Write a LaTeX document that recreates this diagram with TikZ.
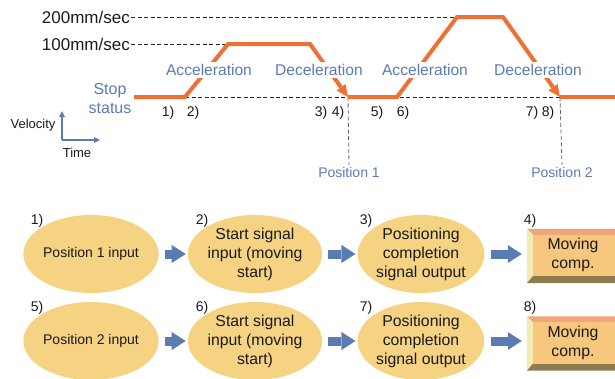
\documentclass[tikz,border=0pt]{standalone}
\usepackage{fontspec}
\setmainfont{Liberation Sans}
\usetikzlibrary{arrows.meta,shapes.geometric,calc}
\definecolor{myorange}{HTML}{EE7035}
\definecolor{myblue}{HTML}{5B7BB4}
\definecolor{arrowblue}{HTML}{5A7CB3}
\definecolor{ellfill}{HTML}{F6D283}
\definecolor{txtdark}{HTML}{1A1A1A}
\definecolor{bevtop}{HTML}{F2A57A}
\definecolor{bevleft}{HTML}{F3EDB4}
\definecolor{bevbottom}{HTML}{8E7D50}
\definecolor{bevright}{HTML}{B89A5C}
\definecolor{bevface}{HTML}{F7C77D}
\begin{document}
\begin{tikzpicture}[x=1pt,y=-1pt,
  orangeline/.style={draw=myorange,line width=4pt,line join=miter},
  otip/.style={-{Triangle[length=12pt,width=11pt,line width=0pt]}},
  guide/.style={draw=black!85,line width=0.8pt,dash pattern=on 4pt off 2.5pt},
  vguide/.style={draw=black!60,line width=0.8pt,dash pattern=on 4pt off 2.5pt},
  phase/.style={text=myblue,fill=white,inner sep=2.5pt,font=\fontsize{15.6}{19}\selectfont},
  speed/.style={text=txtdark,inner sep=1pt,font=\fontsize{17}{20}\selectfont},
  numlbl/.style={text=txtdark,inner sep=0pt,font=\fontsize{14}{16}\selectfont},
  poslbl/.style={text=myblue,inner sep=1.5pt,font=\fontsize{14}{16}\selectfont},
  axislbl/.style={text=txtdark,inner sep=0pt,font=\fontsize{13}{15}\selectfont},
  axisline/.style={draw=myblue,line width=1.5pt,-{Triangle[length=6pt,width=6pt,line width=0pt]}},
  ell/.style={ellipse,fill=ellfill,minimum width=121pt,minimum height=78pt,inner sep=0pt,align=center,text=txtdark,font=\fontsize{15.8}{19}\selectfont},
  blockarrow/.style={draw=arrowblue,line width=9pt,shorten <=6pt,shorten >=2pt,-{Triangle[length=14pt,width=18pt,line width=0pt]}},
  boxframe/.style={rectangle,minimum width=94pt,minimum height=54pt,inner sep=0pt},
  boxtxt/.style={align=center,text=txtdark,inner sep=0pt,font=\fontsize{15.8}{19}\selectfont}
]
\useasboundingbox (0,0) rectangle (615,378);

% ---------- velocity diagram ----------
\coordinate (s0) at (134,97);
\coordinate (a1) at (185,97);
\coordinate (t1) at (228,44);
\coordinate (t2) at (310,44);
\coordinate (p1) at (348,97);
\coordinate (a2) at (397,97);
\coordinate (u1) at (457,17);
\coordinate (u2) at (503,17);
\coordinate (p2) at (560,97);
\coordinate (e0) at (620,97);

\node[speed,anchor=east] (l200) at (131,17) {200mm/sec};
\node[speed,anchor=east] (l100) at (131,44) {100mm/sec};

\draw[guide] (l200.east) -- (u1);
\draw[guide] (l100.east) -- (t1);
\draw[guide] (a1) -- (p2);

\node[poslbl] (pos1) at (349,172) {Position 1};
\node[poslbl] (pos2) at (562,172) {Position 2};
\draw[vguide] (p1) -- (pos1.north);
\draw[vguide] (p2) -- (pos2.north);

\draw[orangeline,otip] (s0) -- (a1) -- (t1) -- (t2) -- (p1);
\draw[orangeline,otip] (p1) -- (a2) -- (u1) -- (u2) -- (p2);
\draw[orangeline] (p2) -- (e0);

\node[phase] (acc1) at (209,70) {Acceleration};
\node[phase] (dec1) at (319,70) {Deceleration};
\node[phase] (acc2) at (425,70) {Acceleration};
\node[phase] (dec2) at (538,70) {Deceleration};

\node[text=myblue,align=center,inner sep=0pt,font=\fontsize{16}{19}\selectfont] (stop) at (110,98) {Stop\\status};

\node[numlbl] (n1) at (168,113) {1)};
\node[numlbl] (n2) at (193,113) {2)};
\node[numlbl] (n3) at (321,113) {3)};
\node[numlbl] (n4) at (338,113) {4)};
\node[numlbl] (n5) at (377,113) {5)};
\node[numlbl] (n6) at (403,113) {6)};
\node[numlbl] (n7) at (532,113) {7)};
\node[numlbl] (n8) at (548,113) {8)};

% axis symbol
\coordinate (ax0) at (62,140);
\coordinate (axv) at (62,111);
\coordinate (axh) at (100,140);
\draw[axisline] (ax0) -- (axv);
\draw[axisline] (ax0) -- (axh);
\node[axislbl] (vel) at (33,125) {Velocity};
\node[axislbl] (tim) at (77,153) {Time};

% ---------- flow rows ----------
\foreach \r/\yy/\ya/\yb in {1/254/222/256,2/341/308/343.5}{
  \node[boxframe] (m\r) at (574,\yb) {};
  \fill[bevtop] (m\r.north west) -- (m\r.north east) -- ($(m\r.north east)+(-6,6)$) -- ($(m\r.north west)+(6,6)$) -- cycle;
  \fill[bevleft] (m\r.north west) -- ($(m\r.north west)+(6,6)$) -- ($(m\r.south west)+(6,-7)$) -- (m\r.south west) -- cycle;
  \fill[bevbottom] (m\r.south west) -- ($(m\r.south west)+(6,-7)$) -- ($(m\r.south east)+(-6,-7)$) -- (m\r.south east) -- cycle;
  \fill[bevright] (m\r.north east) -- ($(m\r.north east)+(-6,6)$) -- ($(m\r.south east)+(-6,-7)$) -- (m\r.south east) -- cycle;
  \fill[bevface] ($(m\r.north west)+(6,6)$) rectangle ($(m\r.south east)+(-6,-7)$);
  \node[boxtxt] (mt\r) at ($(m\r.center)+(-1,-1)$) {Moving\\comp.};
}

\node[ell,font=\fontsize{14}{17}\selectfont] (e1) at (91,254) {Position 1 input};
\node[ell] (e2) at (255,254) {Start signal\\input (moving\\start)};
\node[ell] (e3) at (421,254) {Positioning\\completion\\signal output};

\node[ell,font=\fontsize{14}{17}\selectfont] (f1) at (91,341) {Position 2 input};
\node[ell] (f2) at (255,341) {Start signal\\input (moving\\start)};
\node[ell] (f3) at (421,341) {Positioning\\completion\\signal output};

\draw[blockarrow] (e1) -- (e2);
\draw[blockarrow] (e2) -- (e3);
\draw[blockarrow,shorten >=5pt] (e3.east) -- (e3.east -| m1.west);
\draw[blockarrow] (f1) -- (f2);
\draw[blockarrow] (f2) -- (f3);
\draw[blockarrow,shorten >=5pt] (f3.east) -- (f3.east -| m2.west);

\node[numlbl] (b1) at (37,221) {1)};
\node[numlbl] (b2) at (202,221) {2)};
\node[numlbl] (b3) at (366,221) {3)};
\node[numlbl] (b4) at (530,221) {4)};
\node[numlbl] (b5) at (37,308) {5)};
\node[numlbl] (b6) at (202,308) {6)};
\node[numlbl] (b7) at (366,308) {7)};
\node[numlbl] (b8) at (530,308) {8)};
\end{tikzpicture}
\end{document}
